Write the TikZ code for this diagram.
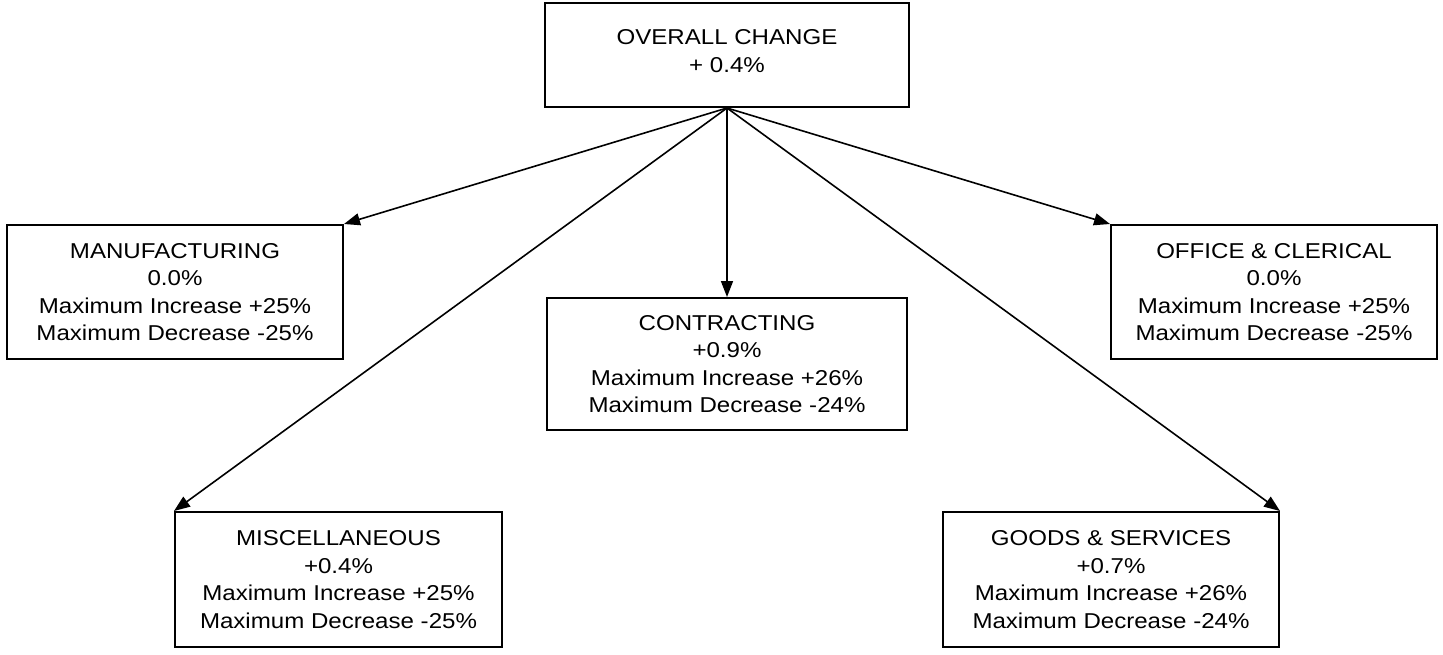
\documentclass[tikz,border=0pt]{standalone}
\usepackage{fontspec}
\setmainfont{Liberation Sans}[FakeStretch=1.12]
\usepackage{tikz}
\usetikzlibrary{arrows.meta,shadows}
\usepackage{xcolor}

\tikzset{
    box/.style={draw,line width=2pt,rectangle,align=center,inner sep=0pt,
        fill=white,drop shadow={shadow xshift=1.2pt,shadow yshift=-1.2pt,fill=gray},
        font=\fontsize{21.5}{27.5}\selectfont},
    link/.style={line width=1.6pt,-{Triangle[length=16pt,width=12pt]}}
}

\begin{document}
\begin{tikzpicture}[x=1pt,y=-1pt]
    \useasboundingbox (0,0) rectangle (1443,654);
    \node[box,minimum width=364pt,minimum height=104pt,text depth=8pt] (overall) at (727,55)
        {OVERALL CHANGE\\+ 0.4\%};
    \node[box,minimum width=336pt,minimum height=134pt] (manuf) at (175,292)
        {MANUFACTURING\\0.0\%\\Maximum Increase +25\%\\Maximum Decrease -25\%};
    \node[box,minimum width=360pt,minimum height=132pt] (contr) at (727,364)
        {CONTRACTING\\+0.9\%\\Maximum Increase +26\%\\Maximum Decrease -24\%};
    \node[box,minimum width=326pt,minimum height=134pt] (office) at (1274,292)
        {OFFICE \& CLERICAL\\0.0\%\\Maximum Increase +25\%\\Maximum Decrease -25\%};
    \node[box,minimum width=327pt,minimum height=135pt] (misc) at (338.5,579.5)
        {MISCELLANEOUS\\+0.4\%\\Maximum Increase +25\%\\Maximum Decrease -25\%};
    \node[box,minimum width=336pt,minimum height=135pt] (goods) at (1111,579.5)
        {GOODS \& SERVICES\\+0.7\%\\Maximum Increase +26\%\\Maximum Decrease -24\%};
    % all arrows leave the bottom of the top box
    \foreach \t/\a in {manuf/north east, misc/north west, contr/north,
        office/north west, goods/north east}
        \draw[link] (overall.south) -- (\t.\a);
\end{tikzpicture}
\end{document}
